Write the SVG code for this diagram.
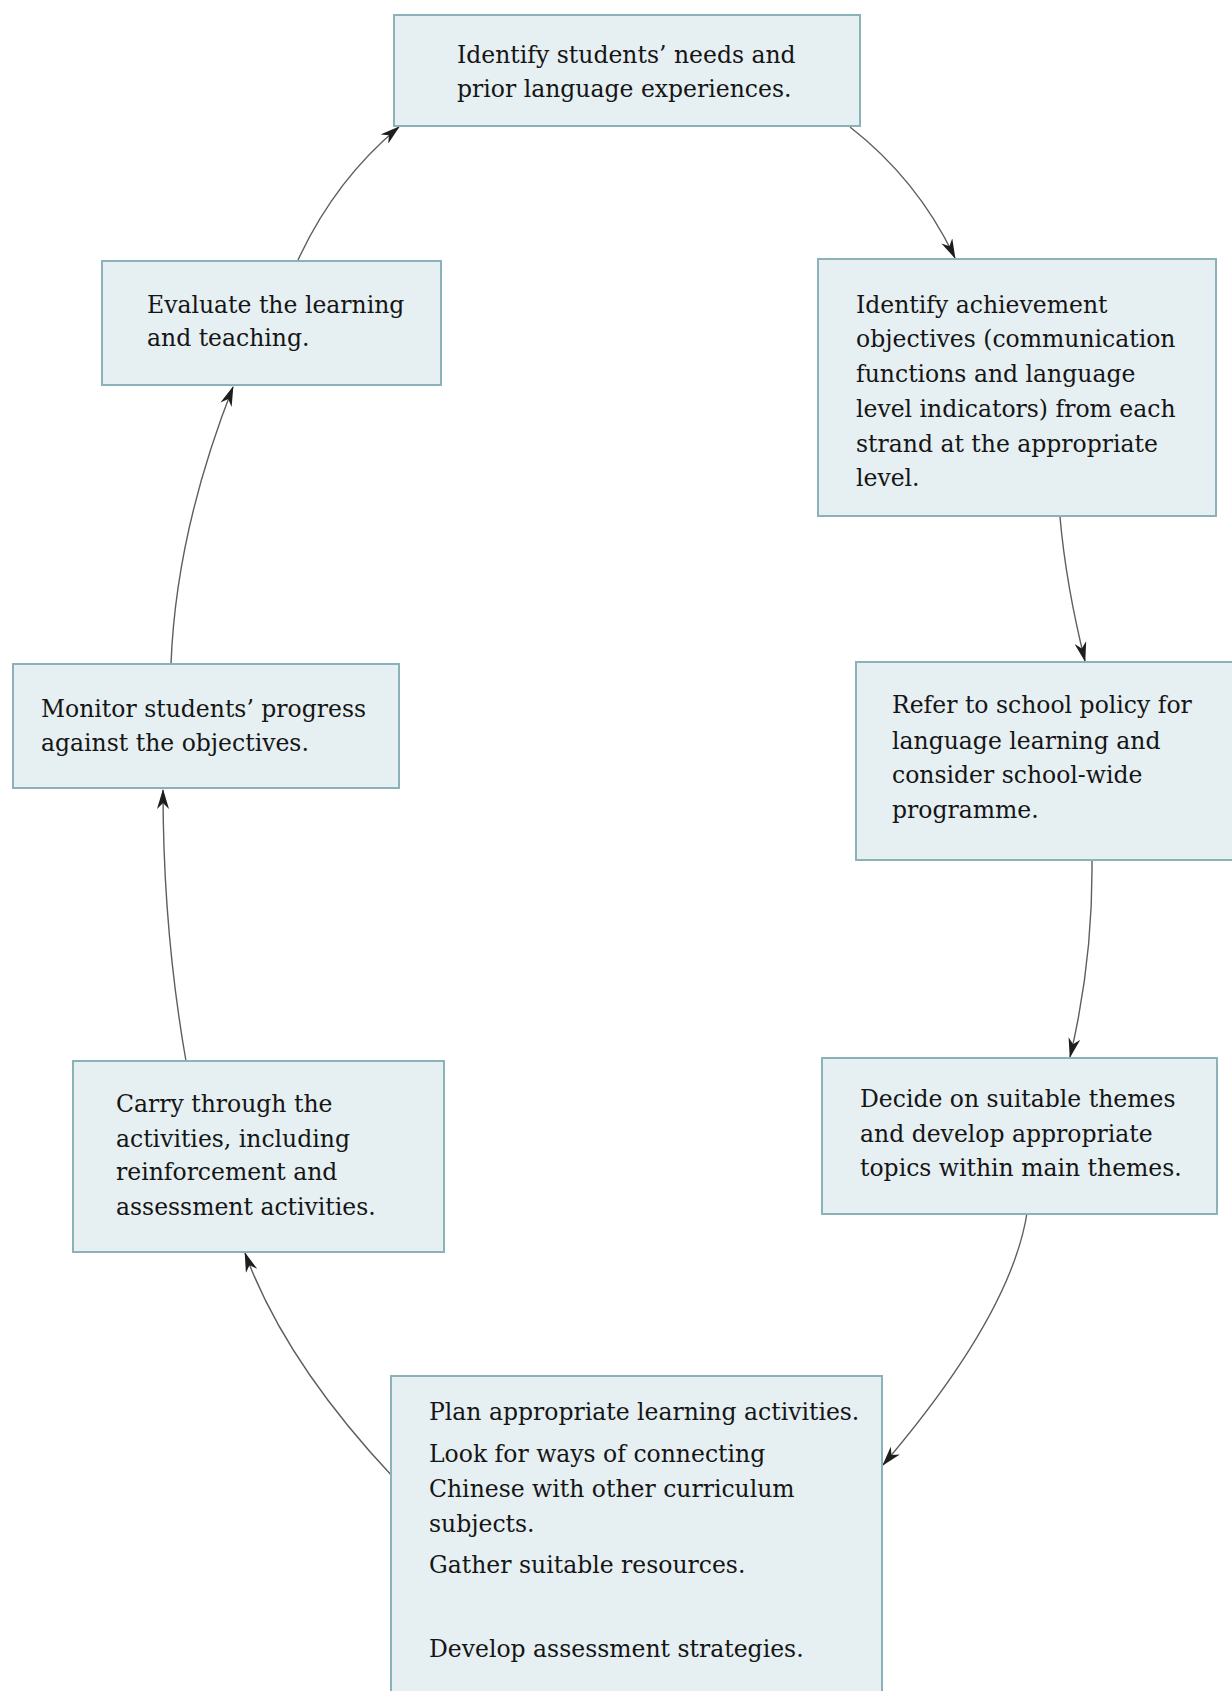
<svg xmlns="http://www.w3.org/2000/svg" width="1232" height="1691" viewBox="0 0 1232 1691">
<style>
.box{fill:#e6eff2;stroke:#8ab2b8;stroke-width:2}
.t{font-family:"DejaVu Serif","Liberation Serif",serif;font-size:23.5px;fill:#151515}
.c{fill:none;stroke:#5e5e5e;stroke-width:1.4}
</style>
<defs>
<marker id="ah" viewBox="0 0 20 12" refX="19" refY="6" markerWidth="20" markerHeight="12" markerUnits="userSpaceOnUse" orient="auto">
<path d="M0,0 L20,6 L0,12 L6,6 Z" fill="#1e1e1e"/>
</marker>
</defs>
<rect width="1232" height="1691" fill="#ffffff"/>
<g id="connectors">
<path class="c" d="M850,127 Q918,180 955,258" marker-end="url(#ah)"/>
<path class="c" d="M1060,517 Q1066,585 1085,661" marker-end="url(#ah)"/>
<path class="c" d="M1092,860 Q1093,961 1070,1057" marker-end="url(#ah)"/>
<path class="c" d="M1027,1213 Q1011,1315 883,1465" marker-end="url(#ah)"/>
<path class="c" d="M393,1477 Q285,1362 245,1253" marker-end="url(#ah)"/>
<path class="c" d="M186,1061 Q163,930 163,790" marker-end="url(#ah)"/>
<path class="c" d="M171,664 Q176,532 233,387" marker-end="url(#ah)"/>
<path class="c" d="M298,260 Q335,180 399,127" marker-end="url(#ah)"/>
</g>
<g id="n1">
<rect class="box" x="394" y="15" width="466" height="111"/>
<text class="t" x="457" y="63">Identify students’ needs and</text>
<text class="t" x="457" y="97">prior language experiences.</text>
</g>
<g id="n2">
<rect class="box" x="818" y="259" width="398" height="257"/>
<text class="t" x="856" y="313">Identify achievement</text>
<text class="t" x="856" y="347">objectives (communication</text>
<text class="t" x="856" y="382">functions and language</text>
<text class="t" x="856" y="417">level indicators) from each</text>
<text class="t" x="856" y="452">strand at the appropriate</text>
<text class="t" x="856" y="486">level.</text>
</g>
<g id="n3">
<rect class="box" x="856" y="662" width="380" height="198"/>
<text class="t" x="892" y="713">Refer to school policy for</text>
<text class="t" x="892" y="749">language learning and</text>
<text class="t" x="892" y="783">consider school-wide</text>
<text class="t" x="892" y="818">programme.</text>
</g>
<g id="n4">
<rect class="box" x="822" y="1058" width="395" height="156"/>
<text class="t" x="860" y="1107">Decide on suitable themes</text>
<text class="t" x="860" y="1142">and develop appropriate</text>
<text class="t" x="860" y="1176">topics within main themes.</text>
</g>
<g id="n5">
<rect class="box" x="391" y="1376" width="491" height="330"/>
<text class="t" x="429" y="1420">Plan appropriate learning activities.</text>
<text class="t" x="429" y="1462">Look for ways of connecting</text>
<text class="t" x="429" y="1497">Chinese with other curriculum</text>
<text class="t" x="429" y="1532">subjects.</text>
<text class="t" x="429" y="1573">Gather suitable resources.</text>
<text class="t" x="429" y="1657">Develop assessment strategies.</text>
</g>
<g id="n6">
<rect class="box" x="73" y="1061" width="371" height="191"/>
<text class="t" x="116" y="1112">Carry through the</text>
<text class="t" x="116" y="1147">activities, including</text>
<text class="t" x="116" y="1180">reinforcement and</text>
<text class="t" x="116" y="1215">assessment activities.</text>
</g>
<g id="n7">
<rect class="box" x="13" y="664" width="386" height="124"/>
<text class="t" x="41" y="717">Monitor students’ progress</text>
<text class="t" x="41" y="751">against the objectives.</text>
</g>
<g id="n8">
<rect class="box" x="102" y="261" width="339" height="124"/>
<text class="t" x="147" y="313">Evaluate the learning</text>
<text class="t" x="147" y="346">and teaching.</text>
</g>
</svg>
